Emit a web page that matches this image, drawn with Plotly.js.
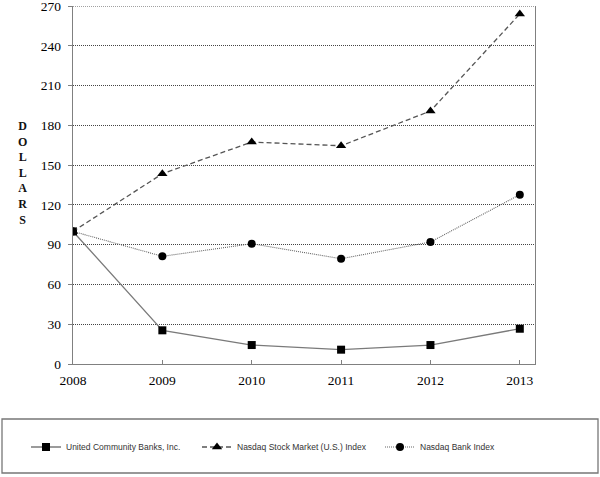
<!DOCTYPE html>
<html>
<head>
<meta charset="utf-8">
<script src="https://cdn.plot.ly/plotly-3.0.1.min.js"></script>
<style>html,body{margin:0;padding:0;background:#fff;}#chart{width:600px;height:477px;}</style>
</head>
<body>
<div id="chart"></div>
<script>
const years = [2008, 2009, 2010, 2011, 2012, 2013];
const ucbValues = [100, 25.4, 14.3, 10.8, 14.3, 26.6];
const nasdaqStockValues = [100, 143.5, 167.4, 164.6, 190.8, 264];
const nasdaqBankValues = [100, 81.2, 90.7, 79.4, 92, 127.7];
const seriesNames = ['United Community Banks, Inc.', 'Nasdaq Stock Market (U.S.) Index', 'Nasdaq Bank Index'];
const yTicks = [0, 30, 60, 90, 120, 150, 180, 210, 240, 270];

const W = 462, H = 358, L = 73, T = 6;
const px = v => (v - L) / W;
const py = v => (T + H - v) / H;

const traces = [
  {x: years, y: ucbValues, name: seriesNames[0], type: 'scatter', mode: 'lines+markers',
   line: {color: '#7a7a7a', width: 1.3, dash: 'solid'},
   marker: {symbol: 'square', size: 8, color: '#000'}, legend: 'legend'},
  {x: years, y: nasdaqStockValues, name: seriesNames[1], type: 'scatter', mode: 'lines+markers',
   line: {color: '#555', width: 1.3, dash: '5px,3px'},
   marker: {symbol: 'triangle-up', size: 9, color: '#000'}, legend: 'legend2'},
  {x: years, y: nasdaqBankValues, name: seriesNames[2], type: 'scatter', mode: 'lines+markers',
   line: {color: '#666', width: 1.1, dash: '1px,1px'},
   marker: {symbol: 'circle', size: 8, color: '#000'}, legend: 'legend3'}
];

const legendFont = {family: 'Liberation Sans, Arial, sans-serif', size: 8.5, color: '#333'};
const legendBase = {orientation: 'h', yanchor: 'middle', xanchor: 'left', y: py(447),
  font: legendFont, bgcolor: 'rgba(0,0,0,0)', borderwidth: 0};

const tickFont = {family: 'Liberation Serif, Times New Roman, serif', size: 13.5, color: '#000'};

const layout = {
  width: 600, height: 477,
  margin: {l: L, r: 600 - L - W, t: T, b: 477 - T - H},
  paper_bgcolor: '#fff', plot_bgcolor: '#fff',
  font: {family: 'Liberation Serif, Times New Roman, serif', color: '#222'},
  xaxis: {
    range: [2008, 2013.17], tickvals: years, ticktext: years.map(String),
    showgrid: false, zeroline: false, showline: true, linecolor: '#808080', linewidth: 1.3,
    ticks: 'inside', ticklen: 4, tickcolor: '#808080', ticklabelstandoff: 3,
    tickfont: tickFont
  },
  yaxis: {
    range: [0, 270], tickvals: yTicks, ticktext: yTicks.map(String),
    showgrid: true, gridcolor: '#444', griddash: '1px,1px', gridwidth: 1,
    zeroline: false, showline: true, linecolor: '#808080', linewidth: 1.3, mirror: true,
    ticks: 'outside', ticklen: 4, tickcolor: '#808080', ticklabelstandoff: 4,
    ticklabeloverflow: 'allow', tickfont: tickFont
  },
  showlegend: true,
  legend: Object.assign({}, legendBase, {x: px(26)}),
  legend2: Object.assign({}, legendBase, {x: px(197)}),
  legend3: Object.assign({}, legendBase, {x: px(380)}),
  shapes: [
    {type: 'rect', xref: 'paper', yref: 'paper', x0: px(2), x1: px(598), y0: py(473), y1: py(419),
     line: {color: '#777', width: 1.3}, fillcolor: 'rgba(0,0,0,0)'},
    {type: 'line', xref: 'paper', yref: 'y', x0: 0, x1: 1, y0: yTicks[yTicks.length - 1], y1: yTicks[yTicks.length - 1],
     line: {color: '#444', width: 1, dash: '1px,1px'}}
  ],
  annotations: [
    {xref: 'paper', yref: 'paper', x: px(22), y: py(172.5), xanchor: 'center', yanchor: 'middle',
     showarrow: false, text: '<b>D<br>O<br>L<br>L<br>A<br>R<br>S</b>',
     font: {family: 'Liberation Serif, Times New Roman, serif', size: 12, color: '#111'}}
  ]
};

Plotly.newPlot('chart', traces, layout, {displayModeBar: false, staticPlot: true});
</script>
</body>
</html>
